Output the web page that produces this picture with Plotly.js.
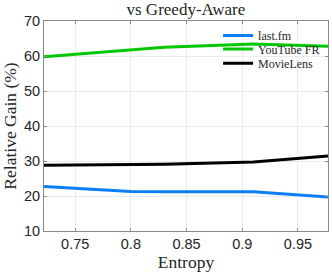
<!DOCTYPE html>
<html>
<head>
<meta charset="utf-8">
<script src="https://cdn.plot.ly/plotly-3.0.1.min.js"></script>
<style>html,body{margin:0;padding:0;background:#fff;}#chart{width:332px;height:273px;}</style>
</head>
<body>
<div id="chart"></div>
<script>
const entropy = [0.722, 0.8, 0.83, 0.91, 0.977];
const lastfm = [22.7, 21.3, 21.2, 21.2, 19.7];
const youtubeFR = [59.8, 61.8, 62.5, 63.4, 62.8];
const movieLens = [28.8, 29.0, 29.1, 29.7, 31.4];
const seriesNames = ['last.fm', 'YouTube FR', 'MovieLens'];
const xTicks = [0.75, 0.8, 0.85, 0.9, 0.95];
const xTickText = ['0.75', '0.8', '0.85', '0.9', '0.95'];
const yTicks = [10, 20, 30, 40, 50, 60, 70];

const colors = ['#0a7ff5', '#00c800', '#000000'];
const ys = [lastfm, youtubeFR, movieLens];
const legendIds = ['legend', 'legend2', 'legend3'];
const traces = ys.map((y, i) => ({
  x: entropy, y: y, type: 'scatter', mode: 'lines', name: seriesNames[i],
  line: {color: colors[i], width: 3}, cliponaxis: false, legend: legendIds[i]
}));

const serif = 'Liberation Serif, DejaVu Serif, serif';
const sans = 'Liberation Sans, Arial, sans-serif';
const legendTops = [1.0, 0.936, 0.868];
const layout = {
  width: 332, height: 273,
  margin: {l: 44, r: 4, t: 21, b: 42},
  paper_bgcolor: '#fff', plot_bgcolor: '#fff',
  title: {text: 'vs Greedy-Aware', font: {family: serif, size: 17, color: '#262626'}, x: 0.56, xanchor: 'center', y: 0.968, yanchor: 'middle'},
  xaxis: {
    range: [0.722, 0.977], tickvals: xTicks, ticktext: xTickText,
    showgrid: true, gridcolor: '#ebebeb', gridwidth: 1,
    showline: true, linecolor: '#8a8a8a', linewidth: 1, mirror: 'ticks',
    ticks: 'inside', ticklen: 3, tickcolor: '#8a8a8a',
    tickfont: {family: sans, size: 14.5, color: '#262626'},
    zeroline: false,
    title: {text: 'Entropy', font: {family: serif, size: 17.5, color: '#262626'}, standoff: 2}
  },
  yaxis: {
    range: [10, 70], tickvals: yTicks,
    showgrid: true, gridcolor: '#ebebeb', gridwidth: 1,
    showline: true, linecolor: '#8a8a8a', linewidth: 1, mirror: 'ticks',
    ticks: 'inside', ticklen: 3, tickcolor: '#8a8a8a',
    tickfont: {family: sans, size: 14.5, color: '#262626'},
    zeroline: false,
    title: {text: 'Relative Gain (%)', font: {family: serif, size: 17.5, color: '#262626'}, standoff: 2}
  },
  showlegend: true
};
legendIds.forEach((id, i) => {
  layout[id] = {
    x: 0.613, y: legendTops[i], xanchor: 'left', yanchor: 'top',
    bgcolor: 'rgba(0,0,0,0)', borderwidth: 0,
    font: {family: serif, size: 12, color: '#262626'},
    itemwidth: 30
  };
});
Plotly.newPlot('chart', traces, layout, {displayModeBar: false, staticPlot: true});
</script>
</body>
</html>
